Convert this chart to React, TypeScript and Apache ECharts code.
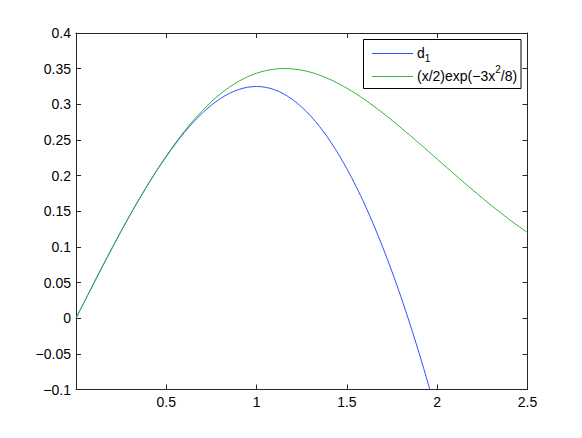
import React, { useEffect, useRef } from "react";
import * as echarts from "echarts";

// ---- data ----
const blueX = [0, 0.05, 0.1, 0.15, 0.2, 0.25, 0.3, 0.35, 0.4, 0.45, 0.5, 0.55, 0.6, 0.65, 0.7, 0.75, 0.8, 0.85, 0.9, 0.95, 1.0,
  1.05, 1.1, 1.15, 1.2, 1.25, 1.3, 1.35, 1.4, 1.45, 1.5, 1.55, 1.6, 1.65, 1.7, 1.75, 1.8, 1.85, 1.9, 1.95, 1.97];
const blueY = [0, 0.025, 0.0498, 0.0744, 0.0985, 0.1221, 0.145, 0.167, 0.188, 0.2081, 0.2267, 0.2444, 0.2605, 0.275, 0.2878, 0.2989, 0.3081, 0.3154, 0.3207, 0.3239, 0.325,
  0.3238, 0.3204, 0.3146, 0.3065, 0.2961, 0.2834, 0.2684, 0.2511, 0.2314, 0.2095, 0.1852, 0.1587, 0.1298, 0.0986, 0.0651, 0.0293, -0.0088, -0.0492, -0.092, -0.1097];

const greenX = [0, 0.05, 0.1, 0.15, 0.2, 0.25, 0.3, 0.35, 0.4, 0.45, 0.5, 0.55, 0.6, 0.65, 0.7, 0.75, 0.8, 0.85, 0.9, 0.95, 1.0,
  1.05, 1.1, 1.15, 1.2, 1.25, 1.3, 1.35, 1.4, 1.45, 1.5, 1.55, 1.6, 1.65, 1.7, 1.75, 1.8, 1.85, 1.9, 1.95, 2.0,
  2.05, 2.1, 2.15, 2.2, 2.25, 2.3, 2.35, 2.4, 2.45, 2.5];
const greenY = [0, 0.025, 0.0498, 0.0744, 0.0985, 0.1221, 0.1451, 0.1671, 0.1884, 0.2086, 0.2276, 0.2455, 0.2621, 0.2774, 0.2912, 0.3037, 0.3147, 0.3241, 0.3321, 0.3386, 0.3436,
  0.3472, 0.3494, 0.3502, 0.3496, 0.3479, 0.3449, 0.3408, 0.3356, 0.3296, 0.3226, 0.3148, 0.3063, 0.2972, 0.2876, 0.2775, 0.267, 0.2563, 0.2454, 0.2343, 0.2231,
  0.212, 0.2009, 0.1899, 0.1791, 0.1685, 0.1581, 0.1482, 0.1383, 0.129, 0.12];

const seriesNames = ["d1", "(x/2)exp(−3x2/8)"];
const xTicks = { min: 0, max: 2.5, interval: 0.5 };
const yTicks = { min: -0.1, max: 0.4, interval: 0.05 };

const FONT = "'Liberation Sans', Arial, Helvetica, sans-serif";
const BLUE = "#2f50ff";
const GREEN = "#35b535";
const AXIS = "#262626";

function fmt(v: number): string {
  const r = Math.round(v * 1000) / 1000;
  if (r < 0) return "−" + String(-r);
  return String(r);
}

export default function App() {
  const ref = useRef<HTMLDivElement>(null);
  useEffect(() => {
    if (!ref.current) return;
    const chart = echarts.init(ref.current, undefined, { renderer: "svg" });
    const axisLine = { show: true, onZero: false, lineStyle: { color: AXIS, width: 1 } };
    const axisTick = { show: true, inside: true, length: 5, lineStyle: { color: AXIS, width: 1 } };
    const label = { color: "#000", fontSize: 14, fontFamily: FONT };
    const rich = {
      m: { fontSize: 14, fontFamily: FONT, lineHeight: 22, color: "#000" },
      s: { fontSize: 10, fontFamily: FONT, lineHeight: 12, verticalAlign: "bottom", color: "#000" },
      p: { fontSize: 10, fontFamily: FONT, lineHeight: 12, verticalAlign: "top", color: "#000" },
    };
    chart.setOption({
      animation: false,
      backgroundColor: "#ffffff",
      grid: { left: 76, right: 54.5, top: 33, bottom: 48.5, containLabel: false },
      xAxis: [
        {
          type: "value", position: "bottom", ...xTicks,
          axisLine, axisTick,
          axisLabel: { ...label, margin: 5, formatter: (v: number) => (v === 0 ? "" : fmt(v)) },
          splitLine: { show: false },
        },
        {
          type: "value", position: "top", ...xTicks,
          axisLine, axisTick, axisLabel: { show: false }, splitLine: { show: false },
        },
      ],
      yAxis: [
        {
          type: "value", position: "left", ...yTicks,
          axisLine, axisTick,
          axisLabel: { ...label, margin: 5, formatter: (v: number) => fmt(v) },
          splitLine: { show: false },
        },
        {
          type: "value", position: "right", ...yTicks,
          axisLine, axisTick, axisLabel: { show: false }, splitLine: { show: false },
        },
      ],
      series: [
        {
          name: seriesNames[0], type: "line", xAxisIndex: 0, yAxisIndex: 0,
          data: blueX.map((x, i) => [x, blueY[i]]),
          showSymbol: false, smooth: 0.3, clip: true,
          lineStyle: { color: BLUE, width: 1 }, itemStyle: { color: BLUE },
        },
        {
          name: seriesNames[1], type: "line", xAxisIndex: 0, yAxisIndex: 0,
          data: greenX.map((x, i) => [x, greenY[i]]),
          showSymbol: false, smooth: 0.3, clip: true,
          lineStyle: { color: GREEN, width: 1 }, itemStyle: { color: GREEN },
        },
      ],
      graphic: [
        {
          type: "rect", z: 100,
          shape: { x: 363.5, y: 39.5, width: 157.5, height: 49 },
          style: { fill: "#fff", stroke: "#000", lineWidth: 1 },
        },
        {
          type: "line", z: 101,
          shape: { x1: 372, y1: 53.5, x2: 413, y2: 53.5 },
          style: { stroke: BLUE, lineWidth: 1 },
        },
        {
          type: "line", z: 101,
          shape: { x1: 372, y1: 76.5, x2: 413, y2: 76.5 },
          style: { stroke: GREEN, lineWidth: 1 },
        },
        {
          type: "text", z: 101, x: 417, y: 52.5,
          style: { text: "{m|d}{s|1}", rich, align: "left", verticalAlign: "middle", fill: "#000" },
        },
        {
          type: "text", z: 101, x: 417, y: 75.5,
          style: { text: "{m|(x/2)exp(−3x}{p|2}{m|/8)}", rich, align: "left", verticalAlign: "middle", fill: "#000" },
        },
      ],
    });
    return () => chart.dispose();
  }, []);
  return (
    <div
      ref={ref}
      style={{ position: "absolute", left: 0, top: 0, width: 582, height: 438, background: "#fff" }}
    />
  );
}
